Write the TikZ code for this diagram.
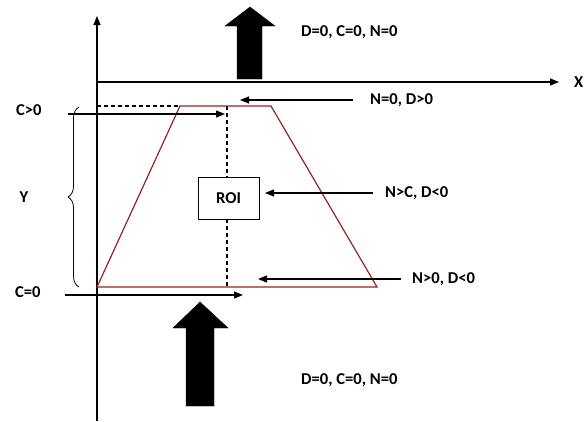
\documentclass[tikz,border=0pt]{standalone}
\usepackage{fontspec}
\setmainfont{Carlito}
\usetikzlibrary{arrows.meta,decorations.pathreplacing}
\definecolor{trap}{RGB}{150,35,35}
\begin{document}
\begin{tikzpicture}[x=1pt,y=-1pt,
  lbl/.style={font=\bfseries\fontsize{16.6}{18}\selectfont,inner sep=0pt,anchor=west},
  axis/.style={line width=1.3pt,-{Triangle[length=9pt,width=7pt]}},
  pointer/.style={line width=1.2pt,-{Triangle[length=9pt,width=7pt]}},
  trapline/.style={draw=trap,line width=1.2pt},
  dashline/.style={line width=1.2pt,dash pattern=on 4pt off 3pt},
  blockarrow/.style={fill=black}]
\useasboundingbox (0,0) rectangle (584,421);
% axes
\coordinate (O) at (97,421);
\coordinate (Ytop) at (97,16);
\coordinate (Xl) at (97,82);
\coordinate (Xr) at (559,82);
\draw[axis] (O) -- (Ytop);
\draw[axis] (Xl) -- (Xr);
\node[lbl,anchor=east] (xlab) at (583.5,82) {X};
% trapezoid
\coordinate (BL) at (97,287);
\coordinate (TL) at (180,106);
\coordinate (TR) at (271,106);
\coordinate (BR) at (377,287);
\draw[trapline] (BL) -- (TL) -- (TR) -- (BR) -- cycle;
\coordinate (Dl) at (97,106);
\draw[dashline] (Dl) -- (TL);
% ROI
\node[draw,line width=0.9pt,minimum width=61pt,minimum height=42pt,inner sep=0pt,
  font=\bfseries\fontsize{16.6}{18}\selectfont] (roi) at (228.5,198) {ROI};
\coordinate (Vt) at (227,106);
\coordinate (Vb) at (227,287);
\draw[dashline] (Vt) -- (Vt |- roi.north);
\draw[dashline] (Vb |- roi.south) -- (Vb);
% big arrows
\draw[blockarrow] (237,79) -- (237,26) -- (225,26) -- (250,7) -- (275,26) -- (262,26) -- (262,79) -- cycle;
\draw[blockarrow] (186,406) -- (186,328) -- (173,328) -- (200,302) -- (228,328) -- (214,328) -- (214,406) -- cycle;
% labels
\node[lbl] (top) at (301,32) {D=0, C=0, N=0};
\node[lbl] (bot) at (301,380) {D=0, C=0, N=0};
\node[lbl] (n0) at (370,100) {N=0, D>0};
\node[lbl] (nc) at (385,193) {N>C, D<0};
\node[lbl] (np) at (412,279) {N>0, D<0};
\node[lbl] (cp) at (16,110) {C>0};
\node[lbl] (cz) at (15,292) {C=0};
\node[lbl,anchor=center] (ylab) at (24,197) {Y};
% pointers
\coordinate (n0s) at (353,100); \coordinate (n0e) at (240,100);
\coordinate (ncs) at (373,193); \coordinate (nce) at (265,193);
\coordinate (nps) at (401,279); \coordinate (npe) at (258,279);
\coordinate (cps) at (68,114);  \coordinate (cpe) at (225,114);
\coordinate (czs) at (65,295);  \coordinate (cze) at (243,295);
\draw[pointer] (n0s) -- (n0e);
\draw[pointer] (ncs) -- (nce);
\draw[pointer] (nps) -- (npe);
\draw[pointer] (cps) -- (cpe);
\draw[pointer] (czs) -- (cze);
% brace
\coordinate (brb) at (79,287);
\coordinate (brt) at (79,107);
\draw[line width=0.8pt,decorate,decoration={brace,amplitude=11pt}] (brb) -- (brt);
\end{tikzpicture}
\end{document}
